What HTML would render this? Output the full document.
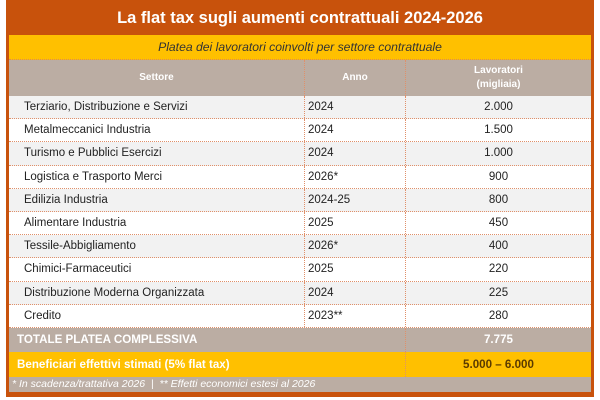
<!DOCTYPE html>
<html><head><style>
body{margin:0;width:600px;height:400px;background:#fff;font-family:"Liberation Sans",sans-serif;position:relative;overflow:hidden}
.frame{position:absolute;left:6px;top:0;width:588px;height:397px;background:#C8520C}
.in{position:absolute;left:3px;width:582px}
.title{top:0;height:35px;color:#fff;font-weight:bold;font-size:16.5px;line-height:36px;text-align:center}
.sub{top:35px;height:25px;background:#FFC000;color:#333;font-style:italic;font-size:12.2px;line-height:25px;text-align:center;border-bottom:1px dotted #d98a5a;box-sizing:border-box}
.row{position:relative;height:22.2px;border-bottom:1px dotted #e0906a;font-size:11.5px;color:#222;line-height:23px}
.c{position:absolute;top:0;height:100%;box-sizing:border-box}
.c1{left:0;width:295px;padding-left:15px}
.c2{left:295px;width:101px;padding-left:3px;border-left:1px dotted #e0906a}
.c3{left:396px;width:186px;text-align:center;border-left:1px dotted #e0906a}
</style></head><body>
<div class="frame">
<div class="in title">La flat tax sugli aumenti contrattuali 2024-2026</div>
<div class="in sub">Platea dei lavoratori coinvolti per settore contrattuale</div>
<div class="in" style="top:60px;height:36px;background:#BBADA3;color:#fff;font-weight:bold;font-size:10px">
<div class="c c1" style="padding:0;text-align:center;line-height:36px">Settore</div>
<div class="c c2" style="padding:0;text-align:center;line-height:36px">Anno</div>
<div class="c c3" style="line-height:14px;padding-top:4px">Lavoratori<br>(migliaia)</div>
</div>
<div class="in" style="top:96px;height:232px;background:#fff">
<div class="row" style="background:#F2F2F2"><div class="c c1">Terziario, Distribuzione e Servizi</div><div class="c c2">2024</div><div class="c c3">2.000</div></div>
<div class="row" style="background:#fff"><div class="c c1">Metalmeccanici Industria</div><div class="c c2">2024</div><div class="c c3">1.500</div></div>
<div class="row" style="background:#F2F2F2"><div class="c c1">Turismo e Pubblici Esercizi</div><div class="c c2">2024</div><div class="c c3">1.000</div></div>
<div class="row" style="background:#fff"><div class="c c1">Logistica e Trasporto Merci</div><div class="c c2">2026*</div><div class="c c3">900</div></div>
<div class="row" style="background:#F2F2F2"><div class="c c1">Edilizia Industria</div><div class="c c2">2024-25</div><div class="c c3">800</div></div>
<div class="row" style="background:#fff"><div class="c c1">Alimentare Industria</div><div class="c c2">2025</div><div class="c c3">450</div></div>
<div class="row" style="background:#F2F2F2"><div class="c c1">Tessile-Abbigliamento</div><div class="c c2">2026*</div><div class="c c3">400</div></div>
<div class="row" style="background:#fff"><div class="c c1">Chimici-Farmaceutici</div><div class="c c2">2025</div><div class="c c3">220</div></div>
<div class="row" style="background:#F2F2F2"><div class="c c1">Distribuzione Moderna Organizzata</div><div class="c c2">2024</div><div class="c c3">225</div></div>
<div class="row" style="background:#fff"><div class="c c1">Credito</div><div class="c c2">2023**</div><div class="c c3">280</div></div>
</div>
<div class="in" style="top:328px;height:24px;background:#BBADA3;color:#fff;font-weight:bold;font-size:11.6px;line-height:24px">
<div class="c c1" style="padding-left:8px">TOTALE PLATEA COMPLESSIVA</div><div class="c c3">7.775</div></div>
<div class="in" style="top:352px;height:25px;background:#FFC000;font-weight:bold;font-size:11.6px;line-height:25px">
<div class="c c1" style="padding-left:8px;color:#fff">Beneficiari effettivi stimati (5% flat tax)</div><div class="c c3" style="color:#5a3a00">5.000 – 6.000</div></div>
<div class="in" style="top:377px;height:15px;background:#BBADA3;color:#fff;font-style:italic;font-size:10.5px;line-height:15px;padding-left:3px;box-sizing:border-box">* In scadenza/trattativa 2026 &nbsp;|&nbsp; ** Effetti economici estesi al 2026</div>
</div>
</body></html>
